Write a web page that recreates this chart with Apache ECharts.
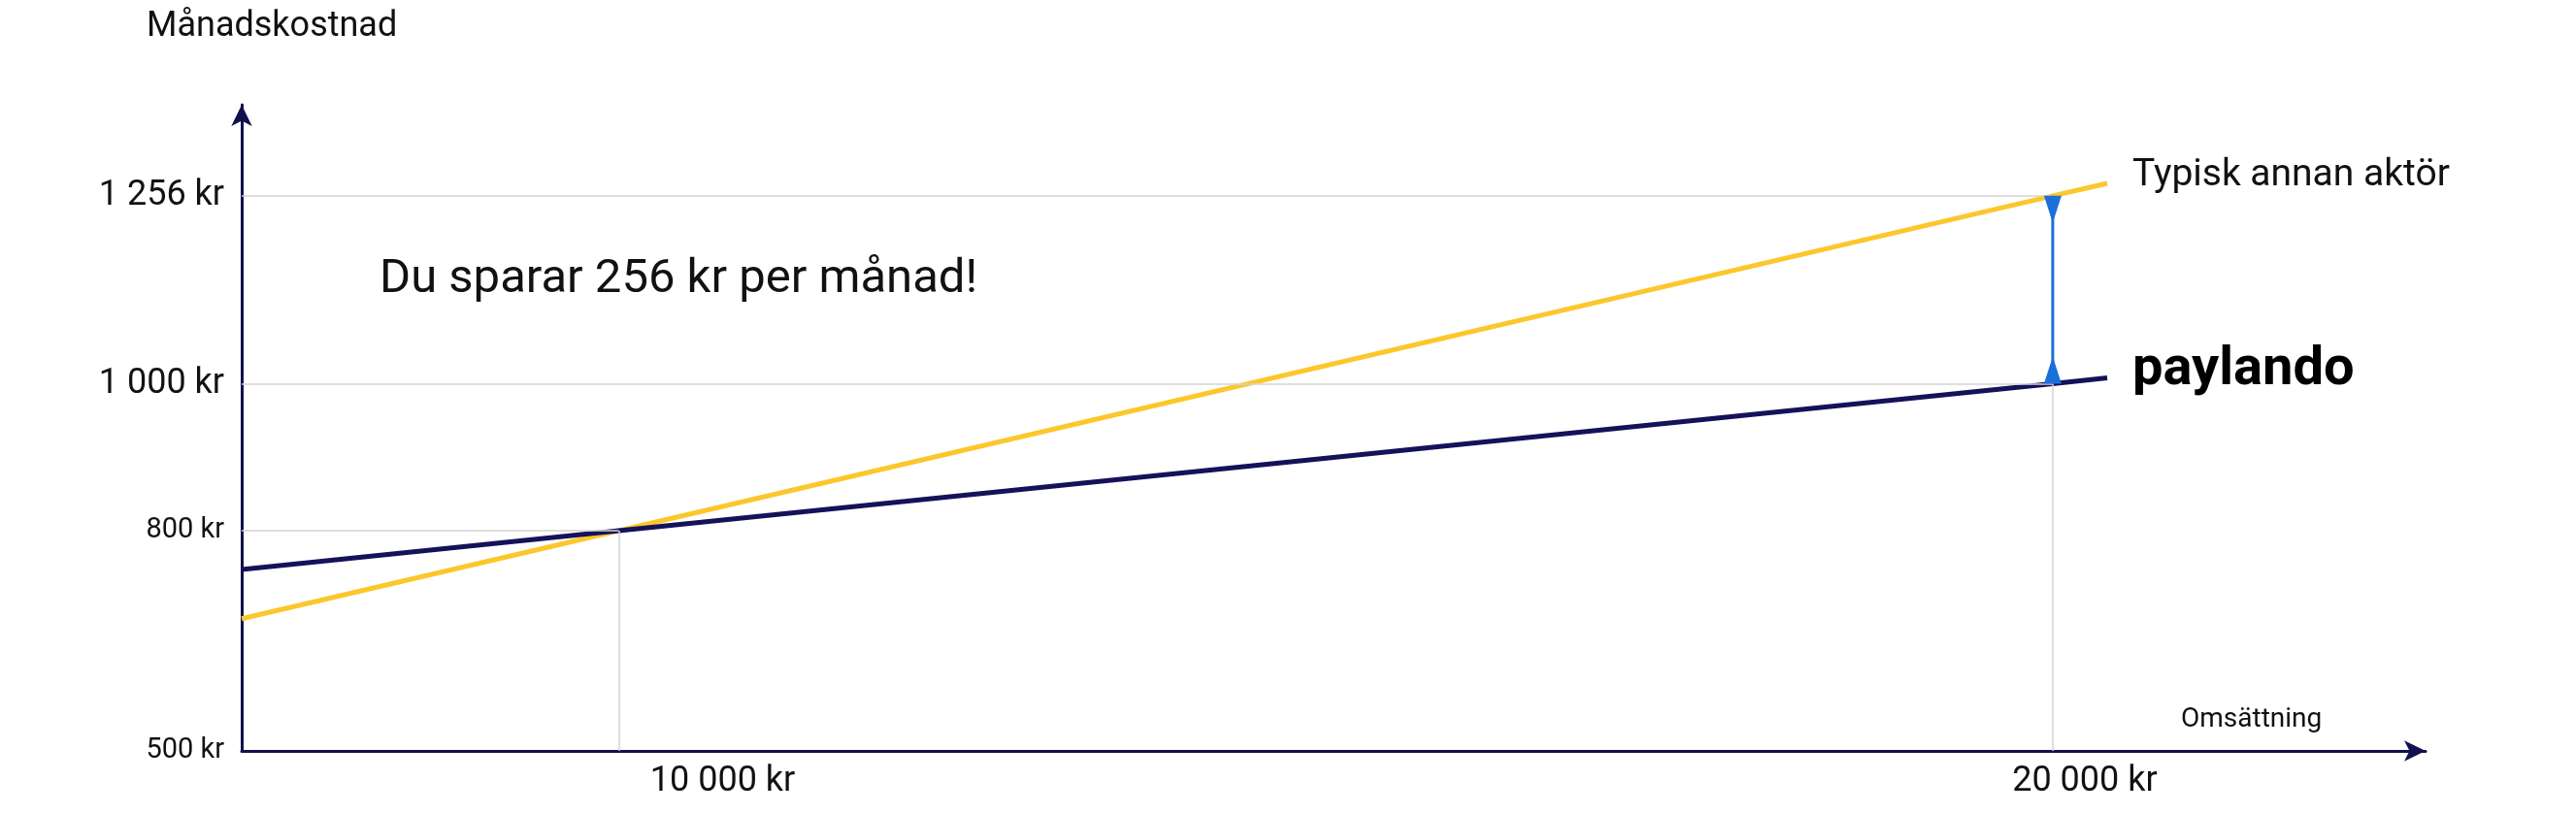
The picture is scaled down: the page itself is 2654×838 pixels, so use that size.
<!DOCTYPE html>
<html><head><meta charset="utf-8">
<script src="https://cdn.jsdelivr.net/npm/echarts@6/dist/echarts.min.js"></script>
<style>html,body{margin:0;padding:0;background:#fff}#c{width:2654px;height:838px}</style>
</head><body><div id="c"></div>
<script>
const xRange = [7370, 22600];
const yRange = [500, 1380];
const yTicks = [500, 800, 1000, 1256];
const xTicks = [10000, 20000];
const paylando = [[7370, 747], [10000, 800], [20000, 1000], [20380, 1008]];
const typisk = [[7370, 680], [10000, 800], [20000, 1256], [20380, 1273]];
const savingsGap = [[20000, 1000], [20000, 1256]];
const gridH = [[800, 10000], [1000, 20000], [1256, 20000]];
const gridV = [[10000, 800], [20000, 1000]];

const fmtK = v => String(v).replace(/\B(?=(\d{3})+(?!\d))/g, ' ') + ' kr';
const F = 'Roboto';
const chart = echarts.init(document.getElementById('c'));
const gridLines = gridH.map(([y, x]) => [{coord: [xRange[0], y]}, {coord: [x, y]}])
  .concat(gridV.map(([x, y]) => [{coord: [x, yRange[0]]}, {coord: [x, y]}]));
const gapData = savingsGap.map((p, i) => i === 0
  ? {value: p, symbol: 'triangle', symbolOffset: [0, '-50%']}
  : {value: p, symbol: 'path://M0,0L10,0L5,16Z', symbolOffset: [0, '50%']});
chart.setOption({
  animation: false,
  grid: {left: 249, right: 155, top: 108, bottom: 64},
  xAxis: {
    type: 'value', min: xRange[0], max: xRange[1],
    axisLine: {lineStyle: {color: '#11114d', width: 3}, symbol: ['none', 'arrow'], symbolSize: [16, 22]},
    axisTick: {show: false}, splitLine: {show: false},
    axisLabel: {customValues: xTicks, margin: 14,
      formatter: v => v === 10000 ? '{a|' + fmtK(v) + '}' : '{b|' + fmtK(v) + '}',
      rich: {a: {fontFamily: F, fontSize: 36, color: '#111', padding: [0, 0, 0, 214]},
             b: {fontFamily: F, fontSize: 36, color: '#111', padding: [0, 0, 0, 66]}}},
    name: 'Omsättning', nameLocation: 'end', nameGap: -252,
    nameTextStyle: {fontFamily: F, fontSize: 28, color: '#111', verticalAlign: 'bottom', padding: [0, 0, 18, 0]}
  },
  yAxis: {
    type: 'value', min: yRange[0], max: yRange[1],
    axisLine: {show: true, lineStyle: {color: '#11114d', width: 3}, symbol: ['none', 'arrow'], symbolSize: [16, 22]},
    axisTick: {show: false}, splitLine: {show: false},
    axisLabel: {customValues: yTicks, margin: 18,
      formatter: v => (v >= 1000 ? '{l|' : '{s|') + fmtK(v) + '}',
      rich: {l: {fontFamily: F, fontSize: 36, color: '#111'}, s: {fontFamily: F, fontSize: 29, color: '#111'}}}
  },
  graphic: [
    {type: 'text', left: 151, top: 10, style: {text: 'Månadskostnad', font: '36px Roboto', fill: '#111'}},
    {type: 'text', left: 391, top: 264, style: {text: 'Du sparar 256 kr per månad!', font: '49px Roboto', fill: '#111'}}
  ],
  series: [
    {type: 'line', data: [], markLine: {silent: true, symbol: 'none', label: {show: false},
      lineStyle: {color: '#d3d3d3', width: 1.5, type: 'solid'}, data: gridLines}},
    {type: 'line', name: 'Typisk annan aktör', data: typisk, symbol: 'none', lineStyle: {color: '#fcc72c', width: 5}, z: 3,
      endLabel: {show: true, formatter: 'Typisk annan aktör', fontFamily: F, fontSize: 39, color: '#111', distance: 26, offset: [0, -8]}},
    {type: 'line', name: 'paylando', data: paylando, symbol: 'none', lineStyle: {color: '#15125a', width: 5}, z: 4,
      endLabel: {show: true, formatter: 'paylando', fontFamily: F, fontSize: 56, fontWeight: 'bold', color: '#000', distance: 26, offset: [0, -8]}},
    {type: 'line', data: gapData, lineStyle: {color: '#1b6fd8', width: 3}, z: 5,
      symbolSize: [18, 28], itemStyle: {color: '#1b6fd8'}}
  ]
});
</script></body></html>
